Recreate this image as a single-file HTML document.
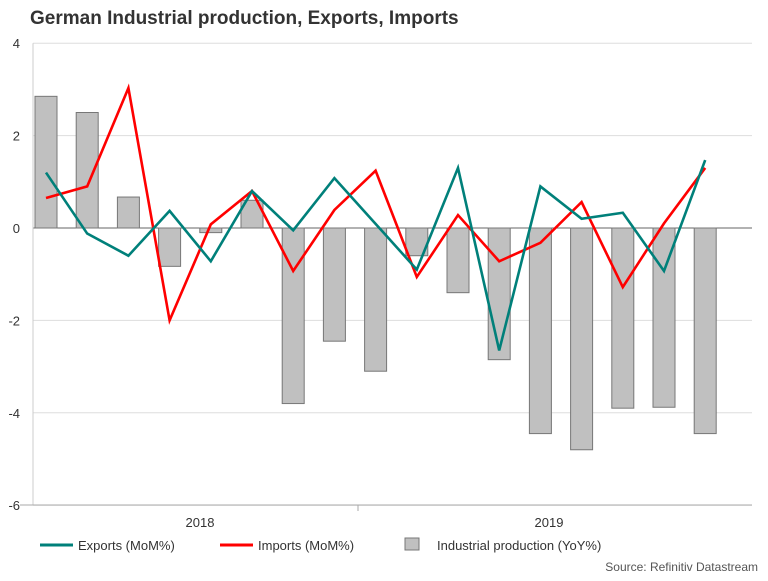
<!DOCTYPE html>
<html><head><meta charset="utf-8"><style>
body{margin:0;background:#fff;font-family:"Liberation Sans",sans-serif;}
</style></head><body>
<svg width="768" height="576" xmlns="http://www.w3.org/2000/svg" id="chart" font-family="Liberation Sans, sans-serif">
<text x="30" y="24" font-size="19" font-weight="bold" fill="#333">German Industrial production, Exports, Imports</text>
<text x="758" y="571" font-size="12" fill="#555" text-anchor="end">Source: Refinitiv Datastream</text>
</svg>
<script>
const yTicks=[4,2,0,-2,-4,-6];
const industrial=[2.85,2.5,0.67,-0.83,-0.1,0.6,-3.8,-2.45,-3.1,-0.6,-1.4,-2.85,-4.45,-4.8,-3.9,-3.88,-4.45];
const exportsV=[1.2,-0.12,-0.6,0.37,-0.72,0.8,-0.05,1.08,0.09,-0.9,1.3,-2.65,0.9,0.2,0.33,-0.93,1.47];
const importsV=[0.65,0.9,3.03,-2.0,0.08,0.8,-0.93,0.39,1.24,-1.06,0.28,-0.72,-0.32,0.56,-1.28,0.1,1.3];
const yearLabels=["2018","2019"];
const NS="http://www.w3.org/2000/svg";
const svg=document.getElementById('chart');
const y=v=>228-v*46.2;
const x=i=>46+i*41.2;
function mk(t,a){const e=document.createElementNS(NS,t);for(const k in a)e.setAttribute(k,a[k]);svg.appendChild(e);return e;}
yTicks.forEach(t=>{
 const g=mk('line',{x1:33,x2:752,y1:y(t),y2:y(t),stroke:t===0?'#666':'#ddd','stroke-width':1});
 
 
 const l=mk('text',{x:20,y:y(t)+5,'font-size':13,fill:'#333','text-anchor':'end'});l.textContent=t;
 
 
});
const ya=mk('line',{x1:33,x2:33,y1:y(4),y2:y(-6),stroke:'#ccc'});


industrial.forEach((v,i)=>{
 const r=mk('rect',{x:x(i)-11,y:Math.min(y(v),y(0)),width:22,height:Math.abs(y(v)-y(0)),fill:'#c0c0c0',stroke:'#777','stroke-width':1});
 
 
});
const xa=mk('line',{x1:20,x2:752,y1:505,y2:505,stroke:'#aaa'});


const tk=mk('line',{x1:358,x2:358,y1:505,y2:511,stroke:'#aaa'});


[200,549].forEach((px,i)=>{const t=mk('text',{x:px,y:527,'font-size':13,fill:'#333','text-anchor':'middle'});t.textContent=yearLabels[i];
 
 });
function line(vals,col,name){
 const p=mk('polyline',{points:vals.map((v,i)=>x(i)+','+y(v)).join(' '),fill:'none',stroke:col,'stroke-width':2.6,'stroke-linejoin':'miter'});
 
 
}
line(importsV,'#ff0000','imports-line');
line(exportsV,'#00807a','exports-line');
function leg(x0,col,label,isBox,name){
 const g=document.createElementNS(NS,'g');svg.appendChild(g);
 
 
 const s=isBox?document.createElementNS(NS,'rect'):document.createElementNS(NS,'line');
 if(isBox){s.setAttribute('x',x0);s.setAttribute('y',538);s.setAttribute('width',14);s.setAttribute('height',12);s.setAttribute('fill','#c0c0c0');s.setAttribute('stroke','#777');}
 else{s.setAttribute('x1',x0);s.setAttribute('x2',x0+33);s.setAttribute('y1',545);s.setAttribute('y2',545);s.setAttribute('stroke',col);s.setAttribute('stroke-width',3);}
 g.appendChild(s);
 const t=document.createElementNS(NS,'text');t.setAttribute('x',isBox?x0+32:x0+38);t.setAttribute('y',550);t.setAttribute('font-size',13);t.setAttribute('fill','#333');t.textContent=label;g.appendChild(t);
}
leg(40,'#00807a','Exports (MoM%)',false,'legend-exports');
leg(220,'#ff0000','Imports (MoM%)',false,'legend-imports');
leg(405,'#c0c0c0','Industrial production (YoY%)',true,'legend-industrial');
</script>
</body></html>
